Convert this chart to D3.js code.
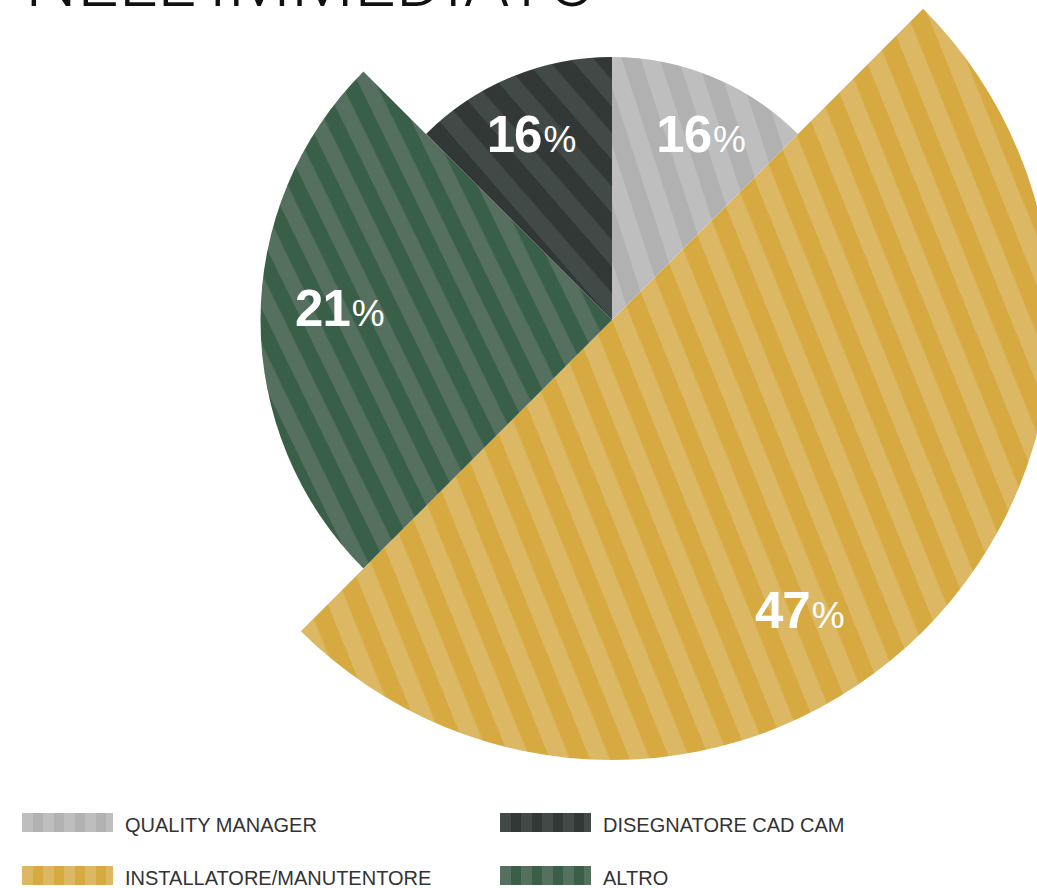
<!DOCTYPE html>
<html>
<head>
<meta charset="utf-8">
<script src="https://cdn.jsdelivr.net/npm/d3@7"></script>
<style>
  html, body { margin: 0; padding: 0; background: #fff; }
  svg { display: block; }
</style>
</head>
<body>
<svg id="chart" width="1037" height="888"></svg>
<script>
// Slices in clockwise order, starting at twelve o'clock
const categories = ["QUALITY MANAGER", "INSTALLATORE/MANUTENTORE", "ALTRO", "DISEGNATORE CAD CAM"];
const values = [16, 47, 21, 16];
// Legend reading order (two columns, row by row)
const legendOrder = ["QUALITY MANAGER", "DISEGNATORE CAD CAM", "INSTALLATORE/MANUTENTORE", "ALTRO"];
const titleText = "NELL'IMMEDIATO";

// Striped fills: light/dark tones, stripe angle from horizontal, stripe period,
// and where the label sits (fraction of the sweep, fraction of the radius)
const styles = {
  "QUALITY MANAGER":          { light: "#bebebe", dark: "#b1b1b1", angle: 72, period: 36, labelAt: 0.57, labelR: 0.783 },
  "INSTALLATORE/MANUTENTORE": { light: "#dcb864", dark: "#d6aa41", angle: 68, period: 37, labelAt: 0.567, labelR: 0.785 },
  "ALTRO":                    { light: "#56705f", dark: "#3a5f49", angle: 64, period: 31, labelAt: 0.527, labelR: 0.775 },
  "DISEGNATORE CAD CAM":      { light: "#414a46", dark: "#323836", angle: 49, period: 35, labelAt: 0.48, labelR: 0.77 }
};

const svg = d3.select("#chart");
const defs = svg.append("defs");

// Diagonal stripe patterns for slices, vertical stripe patterns for legend swatches
categories.forEach((c, i) => {
  const s = styles[c];
  const p = defs.append("pattern")
    .attr("id", "slice-" + i)
    .attr("patternUnits", "userSpaceOnUse")
    .attr("width", s.period).attr("height", 40)
    .attr("patternTransform", `rotate(${-(90 - s.angle)})`);
  p.append("rect").attr("width", s.period).attr("height", 40).attr("fill", s.dark);
  p.append("rect").attr("width", s.period / 2).attr("height", 40).attr("fill", s.light);

  const q = defs.append("pattern")
    .attr("id", "swatch-" + i)
    .attr("patternUnits", "userSpaceOnUse")
    .attr("width", 21).attr("height", 20);
  q.append("rect").attr("width", 21).attr("height", 20).attr("fill", s.dark);
  q.append("rect").attr("width", 11).attr("height", 20).attr("fill", s.light);
});

// Title (runs off the top edge)
const title = svg.append("text")
  .attr("x", 25).attr("y", 6)
  .attr("font-family", "Roboto, 'Liberation Sans', sans-serif")
  .attr("font-weight", 300)
  .attr("fill", "#111")
  .attr("font-size", 70)
  .text(titleText);
const tw = title.node().getComputedTextLength();
title.attr("font-size", 70 * 572 / tw);

// Pie: each slice sweeps a whole number of octants (value rounded to 12.5% steps)
const cx = 612, cy = 320;
const data = categories.map((c, i) => ({ category: c, value: values[i], index: i }));
const pie = d3.pie()
  .sort(null)
  .value(d => Math.round(d.value / 12.5))
  .startAngle(0).endAngle(2 * Math.PI);

// Outer radius steps up with each distinct value
const distinct = Array.from(new Set(values)).sort(d3.ascending);
const rScale = d3.scalePoint().domain(distinct).range([263, 440]);

const arc = d3.arc()
  .innerRadius(0)
  .outerRadius(d => rScale(d.data.value));

const g = svg.append("g").attr("transform", `translate(${cx},${cy})`);
const arcs = pie(data);

g.selectAll("path.slice")
  .data(arcs)
  .join("path")
  .attr("class", "slice")
  .attr("d", arc)
  .attr("fill", d => `url(#slice-${d.data.index})`);

// Percentage labels
const labels = g.selectAll("text.pct")
  .data(arcs)
  .join("text")
  .attr("class", "pct")
  .attr("text-anchor", "middle")
  .attr("fill", "#fff")
  .attr("font-family", "'Liberation Sans', Arial, sans-serif")
  .attr("transform", d => {
    const s = styles[d.data.category];
    const a = d.startAngle + s.labelAt * (d.endAngle - d.startAngle);
    const r = s.labelR * rScale(d.data.value);
    return `translate(${r * Math.sin(a)},${-r * Math.cos(a) + 18})`;
  });
labels.append("tspan")
  .attr("font-weight", "bold")
  .attr("font-size", 51)
  .attr("letter-spacing", -1)
  .text(d => d.data.value);
labels.append("tspan")
  .attr("font-size", 37)
  .attr("dx", 2)
  .text("%");

// Legend
const legend = svg.append("g");
const colX = [22, 500], rowY = [813, 866];
legendOrder.forEach((c, k) => {
  const i = categories.indexOf(c);
  const x = colX[k % 2], y = rowY[Math.floor(k / 2)];
  const item = legend.append("g").attr("transform", `translate(${x},${y})`);
  item.append("rect")
    .attr("width", 91).attr("height", 19)
    .attr("fill", `url(#swatch-${i})`);
  item.append("text")
    .attr("x", 103).attr("y", 19)
    .attr("font-family", "'Liberation Sans', Arial, sans-serif")
    .attr("font-size", 20)
    .attr("letter-spacing", 0)
    .attr("fill", "#333")
    .text(c);
});
</script>
</body>
</html>
